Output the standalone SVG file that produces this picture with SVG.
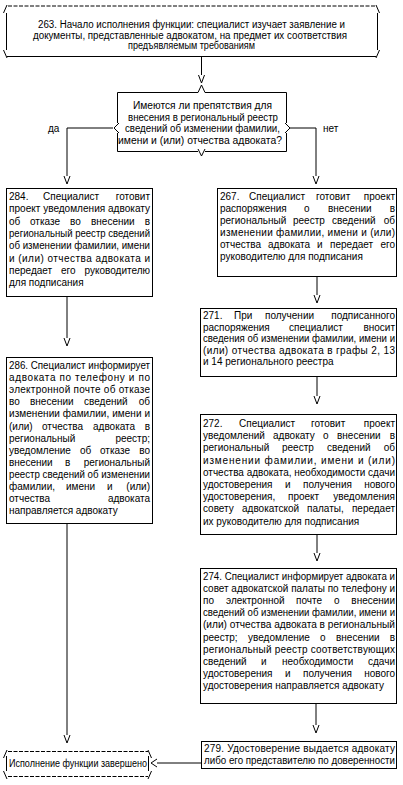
<svg xmlns="http://www.w3.org/2000/svg" width="403" height="785" viewBox="0 0 403 785">
<style>
text{font-family:"Liberation Sans",Arial,sans-serif;font-size:10px;fill:#000}
.b{fill:#fff;stroke:#000;stroke-width:1}
.l{fill:none;stroke:#000;stroke-width:1}
.d{fill:none;stroke:#000;stroke-width:1;stroke-dasharray:4 1.5}
.c{text-anchor:middle}
.r{text-anchor:end}
</style>
<defs>
<path id="v" class="l" d="M-3,0 L0,8 L3,0"/>
<path id="lt" class="l" d="M6,-4 L0,0 L6,4"/>
</defs>
<rect width="403" height="785" fill="#fff"/>
<g id="connectors">
<path class="l" d="M201.5,57 V75"/><use href="#v" x="201.5" y="75"/>
<path class="l" d="M113,128 H67 V176"/><use href="#v" x="67" y="176"/>
<path class="l" d="M290,128 H316 V176"/><use href="#v" x="316" y="176"/>
<path class="l" d="M67,297 V338"/><use href="#v" x="67" y="338"/>
<path class="l" d="M317,277 V295"/><use href="#v" x="317" y="295"/>
<path class="l" d="M317,377 V396"/><use href="#v" x="317" y="396"/>
<path class="l" d="M317,535 V553"/><use href="#v" x="317" y="553"/>
<path class="l" d="M316,704 V725"/><use href="#v" x="316" y="725"/>
<path class="l" d="M67,524 V735"/><use href="#v" x="67" y="735"/>
<path class="l" d="M202,763 H157"/><use href="#lt" x="151" y="763"/>
</g>
<g id="n263">
<path class="d" d="M8,6 H376"/>
<path class="l" d="M3.5,13 L7,5 M379.5,13 L376,5 M6.5,13 V50 M377.5,13 V50 M3.5,50 L7,58 M379.5,50 L376,58 M7,56.5 H376"/>
<text class="c" x="191.5" y="27.5" textLength="307" lengthAdjust="spacingAndGlyphs">263. Начало исполнения функции: специалист изучает заявление и</text>
<text class="c" x="190" y="38.5" textLength="314" lengthAdjust="spacingAndGlyphs">документы, представленные адвокатом, на предмет их соответствия</text>
<text class="c" x="191.5" y="49" textLength="127" lengthAdjust="spacingAndGlyphs">предъявляемым требованиям</text>
</g>
<g id="decision">
<path class="l" d="M117.5,92.5 H198 M205,92.5 H286.5 M198,92.5 L201.5,85 L205,92.5 M117.5,151.5 H198 M205,151.5 H286.5 M198,149 L201.5,156 L205,149 M117.5,92.5 V123 M117.5,133 V151.5 M119,123 L114,128 L119,133 M286.5,92.5 V123 M286.5,133 V151.5 M285,123 L290,128 L285,133"/>
<text class="c" x="202.5" y="109" textLength="139" lengthAdjust="spacingAndGlyphs">Имеются ли препятствия для</text>
<text class="c" x="203" y="120.5" textLength="150" lengthAdjust="spacingAndGlyphs">внесения в региональный реестр</text>
<text class="c" x="202.5" y="132" textLength="155" lengthAdjust="spacingAndGlyphs">сведений об изменении фамилии,</text>
<text class="c" x="200" y="143.5" textLength="164" lengthAdjust="spacingAndGlyphs">имени и (или) отчества адвоката?</text>
<text x="48" y="131.5">да</text>
<text x="323" y="131.5">нет</text>
</g>
<g id="n284">
<rect class="b" x="6.5" y="188.5" width="146" height="108"/>
<text y="200"><tspan x="9">284.</tspan><tspan x="43">Специалист</tspan></text><text class="r" x="150" y="200">готовит</text>
<text x="9" y="212.3" textLength="141" lengthAdjust="spacingAndGlyphs">проект уведомления адвокату</text>
<text y="224.6"><tspan x="9">об</tspan><tspan x="30">отказе</tspan><tspan x="70">во</tspan><tspan x="91">внесении</tspan></text><text class="r" x="150" y="224.6">в</text>
<text x="9" y="236.9" textLength="141" lengthAdjust="spacingAndGlyphs">региональный реестр сведений</text>
<text x="9" y="249.2" textLength="141" lengthAdjust="spacingAndGlyphs">об изменении фамилии, имени</text>
<text x="9" y="261.5" textLength="141" lengthAdjust="spacing">и (или) отчества адвоката и</text>
<text y="273.8"><tspan x="9">передает</tspan><tspan x="61">его</tspan></text><text class="r" x="150" y="273.8">руководителю</text>
<text x="9" y="286.1">для подписания</text>
</g>
<g id="n286">
<rect class="b" x="6.5" y="357.5" width="146" height="166"/>
<text x="9" y="369" textLength="141" lengthAdjust="spacingAndGlyphs">286. Специалист информирует</text>
<text x="9" y="381.1" textLength="141" lengthAdjust="spacing">адвоката по телефону и по</text>
<text x="9" y="393.2" textLength="141" lengthAdjust="spacing">электронной почте об отказе</text>
<text y="405.3"><tspan x="9">во</tspan><tspan x="30">внесении</tspan><tspan x="84">сведений</tspan></text><text class="r" x="150" y="405.3">об</text>
<text x="9" y="417.4" textLength="141" lengthAdjust="spacing">изменении фамилии, имени и</text>
<text y="429.5"><tspan x="9">(или)</tspan><tspan x="42">отчества</tspan><tspan x="93">адвоката</tspan></text><text class="r" x="150" y="429.5">в</text>
<text x="9" y="441.6">региональный</text><text class="r" x="150" y="441.6">реестр;</text>
<text y="453.7"><tspan x="9">уведомление</tspan><tspan x="80">об</tspan><tspan x="100">отказе</tspan></text><text class="r" x="150" y="453.7">во</text>
<text y="465.8"><tspan x="9">внесении</tspan><tspan x="65">в</tspan></text><text class="r" x="150" y="465.8">региональный</text>
<text x="9" y="477.9" textLength="141" lengthAdjust="spacingAndGlyphs">реестр сведений об изменении</text>
<text y="490"><tspan x="9">фамилии,</tspan><tspan x="66">имени</tspan><tspan x="107">и</tspan></text><text class="r" x="150" y="490">(или)</text>
<text x="9" y="502.1">отчества</text><text class="r" x="150" y="502.1">адвоката</text>
<text x="9" y="514.2">направляется адвокату</text>
</g>
<g id="n267">
<rect class="b" x="217.5" y="188.5" width="179" height="88"/>
<text y="200"><tspan x="220">267.</tspan><tspan x="249">Специалист</tspan><tspan x="316">готовит</tspan></text><text class="r" x="395" y="200">проект</text>
<text y="212"><tspan x="220">распоряжения</tspan><tspan x="304">о</tspan><tspan x="328">внесении</tspan></text><text class="r" x="395" y="212">в</text>
<text y="224"><tspan x="220">региональный</tspan><tspan x="293">реестр</tspan><tspan x="332">сведений</tspan></text><text class="r" x="395" y="224">об</text>
<text x="220" y="236" textLength="175" lengthAdjust="spacing">изменении фамилии, имени и (или)</text>
<text y="248"><tspan x="220">отчества</tspan><tspan x="268">адвоката</tspan><tspan x="317">и</tspan><tspan x="330">передает</tspan></text><text class="r" x="395" y="248">его</text>
<text x="220" y="260">руководителю для подписания</text>
</g>
<g id="n271">
<rect class="b" x="200.5" y="308.5" width="196" height="68"/>
<text y="319"><tspan x="203">271.</tspan><tspan x="234">При</tspan><tspan x="265">получении</tspan></text><text class="r" x="395" y="319">подписанного</text>
<text y="330.5"><tspan x="203">распоряжения</tspan><tspan x="289">специалист</tspan></text><text class="r" x="395" y="330.5">вносит</text>
<text x="203" y="342" textLength="192" lengthAdjust="spacingAndGlyphs">сведения об изменении фамилии, имени и</text>
<text x="203" y="353.5" textLength="192" lengthAdjust="spacing">(или) отчества адвоката в графы 2, 13</text>
<text x="203" y="365">и 14 регионального реестра</text>
</g>
<g id="n272">
<rect class="b" x="200.5" y="414.5" width="196" height="120"/>
<text y="427"><tspan x="203">272.</tspan><tspan x="239">Специалист</tspan><tspan x="311">готовит</tspan></text><text class="r" x="395" y="427">проект</text>
<text y="439.2"><tspan x="203">уведомлений</tspan><tspan x="273">адвокату</tspan><tspan x="323">о</tspan><tspan x="337">внесении</tspan></text><text class="r" x="395" y="439.2">в</text>
<text y="451.4"><tspan x="203">региональный</tspan><tspan x="282">реестр</tspan><tspan x="327">сведений</tspan></text><text class="r" x="395" y="451.4">об</text>
<text x="203" y="463.6" textLength="192" lengthAdjust="spacing">изменении фамилии, имени и (или)</text>
<text x="203" y="475.8" textLength="192" lengthAdjust="spacingAndGlyphs">отчества адвоката, необходимости сдачи</text>
<text y="488"><tspan x="203">удостоверения</tspan><tspan x="285">и</tspan><tspan x="303">получения</tspan></text><text class="r" x="395" y="488">нового</text>
<text y="500.2"><tspan x="203">удостоверения,</tspan><tspan x="288">проект</tspan></text><text class="r" x="395" y="500.2">уведомления</text>
<text y="512.4"><tspan x="203">совету</tspan><tspan x="242">адвокатской</tspan><tspan x="307">палаты,</tspan></text><text class="r" x="395" y="512.4">передает</text>
<text x="203" y="524.6">их руководителю для подписания</text>
</g>
<g id="n274">
<rect class="b" x="200.5" y="568.5" width="196" height="135"/>
<text x="203" y="580" textLength="192" lengthAdjust="spacingAndGlyphs">274. Специалист информирует адвоката и</text>
<text x="203" y="592.1" textLength="192" lengthAdjust="spacingAndGlyphs">совет адвокатской палаты по телефону и</text>
<text y="604.2"><tspan x="203">по</tspan><tspan x="226">электронной</tspan><tspan x="296">почте</tspan><tspan x="334">о</tspan></text><text class="r" x="395" y="604.2">внесении</text>
<text x="203" y="616.3" textLength="192" lengthAdjust="spacingAndGlyphs">сведений об изменении фамилии, имени и</text>
<text x="203" y="628.4" textLength="192" lengthAdjust="spacingAndGlyphs">(или) отчества адвоката в региональный</text>
<text y="640.5"><tspan x="203">реестр;</tspan><tspan x="248">уведомление</tspan><tspan x="320">о</tspan><tspan x="336">внесении</tspan></text><text class="r" x="395" y="640.5">в</text>
<text x="203" y="652.6" textLength="192" lengthAdjust="spacing">региональный реестр соответствующих</text>
<text y="664.7"><tspan x="203">сведений</tspan><tspan x="261">и</tspan><tspan x="282">необходимости</tspan></text><text class="r" x="395" y="664.7">сдачи</text>
<text y="676.8"><tspan x="203">удостоверения</tspan><tspan x="285">и</tspan><tspan x="303">получения</tspan></text><text class="r" x="395" y="676.8">нового</text>
<text x="203" y="688.9">удостоверения направляется адвокату</text>
</g>
<g id="n279">
<rect class="b" x="201.5" y="741.5" width="195" height="27"/>
<text x="204" y="752" textLength="191" lengthAdjust="spacing">279. Удостоверение выдается адвокату</text>
<text x="204" y="764" textLength="191" lengthAdjust="spacingAndGlyphs">либо его представителю по доверенности</text>
</g>
<g id="end">
<path class="d" d="M8,751.5 H148 M8,776.5 H148"/>
<path class="l" d="M3.5,758 L7,750 M151.5,758 L148,750 M6.5,756 V771 M148.5,756 V771 M3.5,771 L7,779 M151.5,771 L148,779"/>
<text x="9" y="766.5" textLength="138" lengthAdjust="spacingAndGlyphs">Исполнение функции завершено</text>
</g>
</svg>
